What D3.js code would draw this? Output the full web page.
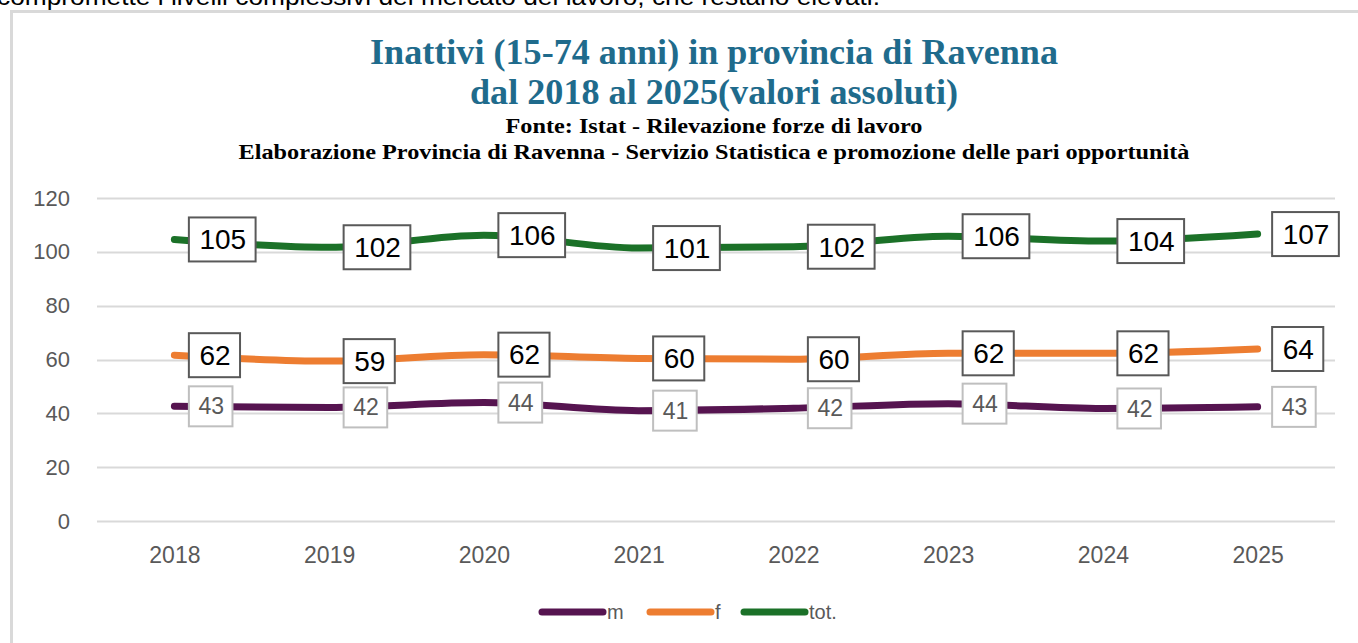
<!DOCTYPE html>
<html>
<head>
<meta charset="utf-8">
<script src="https://cdn.jsdelivr.net/npm/d3@7"></script>
<style>
  html, body { margin: 0; padding: 0; background: #fff; overflow: hidden; }
  svg { display: block; }
</style>
</head>
<body>
<svg width="1358" height="643"></svg>
<script>
// data (thousands)
var years = ["2018", "2019", "2020", "2021", "2022", "2023", "2024", "2025"];
var maschi = [42.6, 42.2, 44.0, 41.0, 41.9, 43.6, 41.8, 42.4];
var femmine = [61.6, 59.4, 61.8, 60.4, 60.1, 62.3, 62.3, 63.9];
var totale = [104.6, 101.7, 106.2, 101.4, 101.9, 105.8, 104.0, 106.6];
var labelM = [43, 42, 44, 41, 42, 44, 42, 43];
var labelF = [62, 59, 62, 60, 60, 62, 62, 64];
var labelT = [105, 102, 106, 101, 102, 106, 104, 107];
var yTicks = [0, 20, 40, 60, 80, 100, 120];

var series = [
  { name: "m", values: maschi, labels: labelM, color: "#561450", light: true },
  { name: "f", values: femmine, labels: labelF, color: "#ED7D31", light: false },
  { name: "tot.", values: totale, labels: labelT, color: "#1B7128", light: false }
];

var svg = d3.select("svg");

// text from the page above the chart, cut off at the top
svg.append("text")
  .attr("x", -3).attr("y", 5)
  .attr("font-family", "Liberation Sans, Arial, sans-serif")
  .attr("font-size", 24)
  .attr("textLength", 883)
  .attr("lengthAdjust", "spacingAndGlyphs")
  .attr("fill", "#000")
  .text("compromette i livelli complessivi del mercato del lavoro, che restano elevati.");

// chart frame
svg.append("rect")
  .attr("x", 11.5).attr("y", 11.5)
  .attr("width", 1360).attr("height", 650)
  .attr("fill", "#fff")
  .attr("stroke", "#d9d9d9")
  .attr("stroke-width", 3);

// titles (the picture is a bit stretched sideways, so fit the widths)
var titles = [
  { text: "Inattivi (15-74 anni) in provincia di Ravenna", y: 64, size: 35, len: 688, color: "#1F6B8C" },
  { text: "dal 2018 al 2025(valori assoluti)", y: 104, size: 35, len: 488, color: "#1F6B8C" },
  { text: "Fonte: Istat - Rilevazione forze di lavoro", y: 133, size: 20, len: 417, color: "#000" },
  { text: "Elaborazione Provincia di Ravenna - Servizio Statistica e promozione delle pari opportunità", y: 159, size: 20, len: 951, color: "#000" }
];

svg.append("g")
  .selectAll("text")
  .data(titles)
  .enter().append("text")
  .attr("x", 714)
  .attr("y", function(d) { return d.y; })
  .attr("text-anchor", "middle")
  .attr("font-family", "Liberation Serif, 'Times New Roman', serif")
  .attr("font-weight", "bold")
  .attr("font-size", function(d) { return d.size; })
  .attr("textLength", function(d) { return d.len; })
  .attr("lengthAdjust", "spacingAndGlyphs")
  .attr("fill", function(d) { return d.color; })
  .text(function(d) { return d.text; });

// scales
var x = d3.scalePoint()
  .domain(years)
  .range([97, 1335])
  .padding(0.5);

var y = d3.scaleLinear()
  .domain([0, 120])
  .range([521, 198]);

// gridlines
svg.append("g")
  .selectAll("line")
  .data(yTicks)
  .enter().append("line")
  .attr("x1", 97).attr("x2", 1335)
  .attr("y1", function(d) { return Math.round(y(d)) + 0.5; })
  .attr("y2", function(d) { return Math.round(y(d)) + 0.5; })
  .attr("stroke", "#d9d9d9")
  .attr("stroke-width", 2);

// y axis
var yAxis = svg.append("g")
  .attr("transform", "translate(70,0)")
  .call(d3.axisLeft(y).tickValues(yTicks).tickSize(0).tickPadding(0));
yAxis.select(".domain").remove();
yAxis.selectAll("text")
  .attr("font-family", "Liberation Sans, Arial, sans-serif")
  .attr("font-size", 22)
  .attr("fill", "#595959");

// x axis
var xAxis = svg.append("g")
  .attr("transform", "translate(0,521)")
  .call(d3.axisBottom(x).tickSize(0).tickPadding(26));
xAxis.select(".domain").remove();
xAxis.selectAll("text")
  .attr("font-family", "Liberation Sans, Arial, sans-serif")
  .attr("font-size", 23)
  .attr("fill", "#595959");

// lines
var line = d3.line()
  .x(function(d, i) { return x(years[i]); })
  .y(function(d) { return y(d); })
  .curve(d3.curveMonotoneX);

svg.append("g")
  .selectAll("path")
  .data(series)
  .enter().append("path")
  .attr("d", function(s) { return line(s.values); })
  .attr("fill", "none")
  .attr("stroke", function(s) { return s.color; })
  .attr("stroke-width", 7)
  .attr("stroke-linecap", "round")
  .attr("stroke-linejoin", "round");

// data labels
series.forEach(function(s) {
  var fs = s.light ? 23 : 28;
  var g = svg.append("g")
    .selectAll("g")
    .data(s.values)
    .enter().append("g")
    .attr("transform", function(d, i) {
      return "translate(" + (x(years[i]) + 15) + "," + y(d) + ")";
    });

  var txt = g.append("text")
    .attr("x", 0).attr("y", 0)
    .attr("dy", "0.35em")
    .attr("font-family", "Liberation Sans, Arial, sans-serif")
    .attr("font-size", fs)
    .attr("fill", s.light ? "#595959" : "#000")
    .text(function(d, i) { return s.labels[i]; });

  txt.each(function() {
    var bb = this.getBBox();
    var padX = s.light ? 9 : 10;
    var h = s.light ? 40 : 44;
    d3.select(this.parentNode).insert("rect", "text")
      .attr("x", -0.5)
      .attr("y", -h / 2)
      .attr("width", bb.width + padX * 2)
      .attr("height", h)
      .attr("fill", "#fff")
      .attr("stroke", s.light ? "#bfbfbf" : "#595959")
      .attr("stroke-width", 2);
    d3.select(this).attr("x", padX);
  });
});

// legend
var legendX = [540, 648, 742];
var legend = svg.append("g")
  .selectAll("g")
  .data(series)
  .enter().append("g")
  .attr("transform", function(s, i) { return "translate(" + legendX[i] + ",612)"; });

legend.append("line")
  .attr("x1", 2).attr("x2", 63)
  .attr("y1", 0).attr("y2", 0)
  .attr("stroke", function(s) { return s.color; })
  .attr("stroke-width", 7)
  .attr("stroke-linecap", "round");

legend.append("text")
  .attr("x", 67).attr("y", 0)
  .attr("dy", "0.35em")
  .attr("font-family", "Liberation Sans, Arial, sans-serif")
  .attr("font-size", 20)
  .attr("fill", "#595959")
  .text(function(s) { return s.name; });
</script>
</body>
</html>
